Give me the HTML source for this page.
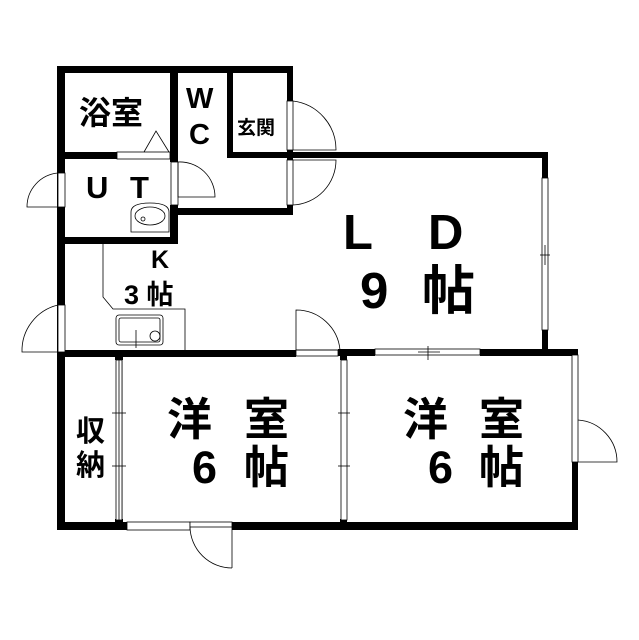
<!DOCTYPE html>
<html><head><meta charset="utf-8"><style>
html,body{margin:0;padding:0;background:#fff}
svg{display:block}
text{font-family:"Liberation Sans","Noto Sans CJK JP",sans-serif;fill:#000;font-weight:bold}
</style></head><body>
<svg width="639" height="640" viewBox="0 0 639 640" xmlns="http://www.w3.org/2000/svg">
<rect width="639" height="640" fill="#fff"/>
<g fill="#000">
<rect x="57" y="66" width="236" height="7"/>
<rect x="57" y="66" width="8" height="464"/>
<rect x="287" y="66" width="6" height="35"/>
<rect x="287" y="150" width="6" height="10"/>
<rect x="287" y="205" width="6" height="10"/>
<rect x="170" y="66" width="8" height="96"/>
<rect x="227" y="66" width="6" height="92"/>
<rect x="57" y="152" width="60" height="7"/>
<rect x="233" y="152" width="315" height="6"/>
<rect x="542" y="152" width="6" height="26"/>
<rect x="542" y="330" width="6" height="24"/>
<rect x="170" y="205" width="8" height="38"/>
<rect x="57" y="237" width="121" height="7"/>
<rect x="178" y="208" width="115" height="7"/>
<rect x="57" y="350" width="239" height="7"/>
<rect x="338" y="349" width="37" height="7"/>
<rect x="480" y="349" width="98" height="7"/>
<rect x="572" y="349" width="6" height="6"/>
<rect x="572" y="462" width="6" height="68"/>
<rect x="57" y="522" width="70" height="8"/>
<rect x="232" y="522" width="346" height="8"/>
<rect x="115" y="355" width="8" height="5"/>
<rect x="115" y="519" width="8" height="5"/>
<rect x="340" y="355" width="7" height="5"/>
<rect x="340" y="519" width="7" height="5"/>
</g>
<g fill="#fff" stroke="#000" stroke-width="0.8">
<rect x="117" y="152" width="53" height="7"/>
<rect x="58" y="173" width="7" height="34"/>
<rect x="58" y="305" width="7" height="47"/>
<rect x="287" y="101" width="6" height="49"/>
<rect x="287" y="160" width="6" height="45"/>
<rect x="171" y="162" width="7" height="43"/>
<rect x="542" y="178" width="6" height="152"/>
<rect x="375" y="349" width="105" height="6"/>
<rect x="116" y="360" width="6" height="160"/>
<rect x="119" y="360" width="3" height="160"/>
<rect x="341" y="360" width="6" height="160"/>
<rect x="572" y="355" width="6" height="107"/>
<rect x="127" y="522" width="63" height="8"/>
<rect x="190" y="522" width="42" height="5"/>
<rect x="296" y="350" width="42" height="6"/>
</g>
<g fill="none" stroke="#000" stroke-width="0.8">
<path d="M58 173 A34 34 0 0 0 27 207 L58 207"/>
<path d="M58 305 A47 47 0 0 0 22 352 L58 352"/>
<path d="M293 101 A49 49 0 0 1 336 150 L293 150"/>
<path d="M293 205 A45 45 0 0 0 336 160 L293 160"/>
<path d="M178 197 L178 162 A35 35 0 0 1 215 197 Z"/>
<path d="M296 310 A44 44 0 0 1 340 350 L296 350 Z"/>
<path d="M578 420 A42 42 0 0 1 617 462 L578 462"/>
<path d="M232 568 A42 42 0 0 1 190 527 M232 527 L232 568"/>
<path d="M144 152 L156 131 L169 152"/>
<path d="M103 243 L103 297 L113 309 L185 309 L185 350"/>
<rect x="116" y="315" width="47" height="30" rx="3"/>
<rect x="119" y="318" width="41" height="24" rx="2"/>
<circle cx="155" cy="336" r="5"/>
<line x1="136" y1="330" x2="136" y2="348"/>
<path d="M131 232 L131 212 Q131 203 150 203 Q169 203 169 212 L169 232 Z"/>
<ellipse cx="150" cy="216" rx="15" ry="9"/>
<circle cx="143" cy="219" r="2"/>
<line x1="545" y1="245" x2="545" y2="265"/>
<line x1="540" y1="255" x2="550" y2="255"/>
<line x1="428" y1="346" x2="428" y2="360"/>
<line x1="418" y1="352" x2="440" y2="352"/>
<line x1="112" y1="413" x2="126" y2="413"/>
<line x1="112" y1="466" x2="126" y2="466"/>
<line x1="338" y1="413" x2="350" y2="413"/>
<line x1="338" y1="466" x2="350" y2="466"/>
</g>
<text x="79" y="124" font-size="32">浴室</text>
<text x="186" y="108" font-size="29">W</text>
<text x="189" y="144" font-size="29">C</text>
<text x="237" y="134" font-size="19">玄関</text>
<text x="86" y="198" font-size="31">U</text>
<text x="130" y="198" font-size="31">T</text>
<text x="151" y="268" font-size="25">K</text>
<text x="124" y="304" font-size="27">3 帖</text>
<text x="343" y="249" font-size="49">L</text>
<text x="428" y="249" font-size="49">D</text>
<text x="360" y="308" font-size="51">9</text>
<text x="422" y="309" font-size="53">帖</text>
<text x="76" y="441" font-size="29">収</text>
<text x="76" y="475" font-size="29">納</text>
<text x="167" y="435" font-size="45">洋</text>
<text x="244" y="435" font-size="45">室</text>
<text x="192" y="483" font-size="45">6</text>
<text x="244" y="483" font-size="45">帖</text>
<text x="403" y="435" font-size="45">洋</text>
<text x="479" y="435" font-size="45">室</text>
<text x="428" y="483" font-size="45">6</text>
<text x="479" y="483" font-size="45">帖</text>
</svg>
</body></html>
